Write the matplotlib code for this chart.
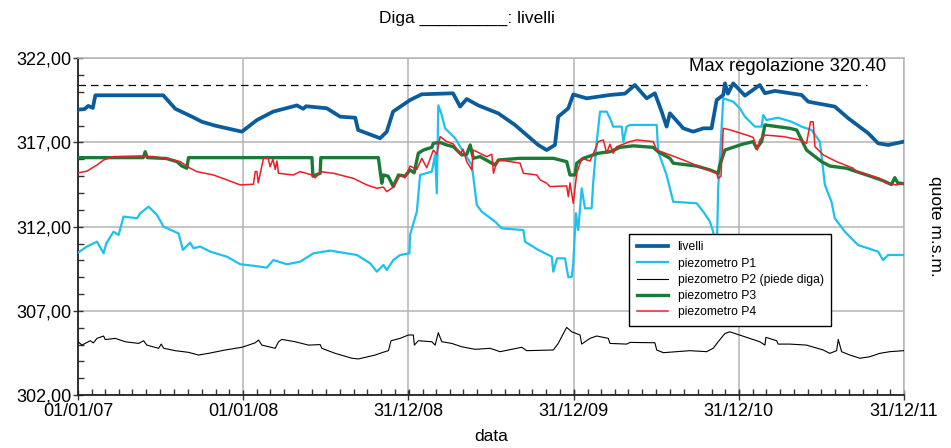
import numpy as np
import pandas as pd
import matplotlib
matplotlib.use('Agg')
import matplotlib.pyplot as plt
import matplotlib.dates as mdates
from matplotlib.ticker import MultipleLocator, FuncFormatter

plt.rcParams['font.family'] = ['Liberation Sans', 'DejaVu Sans']

# tempi in anni decimali, quote in m s.m.
t_livelli = [2007.000, 2007.040, 2007.062, 2007.090, 2007.105, 2007.516, 2007.589, 2007.690, 2007.750, 2007.830,
             2007.992, 2008.083, 2008.181, 2008.325, 2008.363, 2008.381, 2008.506, 2008.587, 2008.678, 2008.696,
             2008.829, 2008.869, 2008.907, 2009.010, 2009.081, 2009.270, 2009.313, 2009.353, 2009.423, 2009.544,
             2009.645, 2009.716, 2009.786, 2009.837, 2009.887, 2009.907, 2009.968, 2009.998, 2010.079, 2010.220,
             2010.311, 2010.371, 2010.442, 2010.492, 2010.533, 2010.563, 2010.583, 2010.664, 2010.724, 2010.785,
             2010.835, 2010.866, 2010.906, 2010.916, 2010.934, 2010.966, 2011.006, 2011.037, 2011.127, 2011.158,
             2011.218, 2011.380, 2011.420, 2011.581, 2011.662, 2011.783, 2011.843, 2011.904, 2011.999]
livelli = [318.95, 318.98, 319.17, 319.05, 319.80, 319.80, 319.00, 318.53, 318.23, 318.00,
           317.64, 318.33, 318.83, 319.20, 319.00, 319.15, 319.03, 318.53, 318.47, 317.74,
           317.25, 317.64, 318.83, 319.52, 319.86, 319.92, 319.13, 319.58, 319.20, 318.73,
           318.04, 317.44, 316.85, 316.55, 316.85, 318.53, 319.03, 319.85, 319.62, 319.82,
           319.90, 320.41, 319.62, 319.92, 318.83, 317.94, 318.73, 317.84, 317.64, 317.84,
           317.84, 319.52, 319.82, 320.51, 319.90, 320.51, 320.10, 319.78, 320.41, 319.92,
           320.06, 319.82, 319.42, 319.13, 318.44, 317.55, 316.95, 316.85, 317.05]

t_p1 = [2007.000, 2007.054, 2007.115, 2007.155, 2007.171, 2007.215, 2007.246, 2007.276, 2007.357, 2007.377,
        2007.427, 2007.478, 2007.518, 2007.609, 2007.635, 2007.679, 2007.699, 2007.740, 2007.800, 2007.901,
        2007.982, 2008.062, 2008.143, 2008.183, 2008.264, 2008.345, 2008.425, 2008.526, 2008.688, 2008.768,
        2008.809, 2008.849, 2008.869, 2008.909, 2008.950, 2009.006, 2009.010, 2009.051, 2009.071, 2009.142,
        2009.162, 2009.172, 2009.181, 2009.202, 2009.222, 2009.283, 2009.313, 2009.384, 2009.414, 2009.444,
        2009.525, 2009.565, 2009.696, 2009.706, 2009.786, 2009.868, 2009.877, 2009.900, 2009.948, 2009.968,
        2009.989, 2009.998, 2010.014, 2010.028, 2010.049, 2010.069, 2010.109, 2010.119, 2010.140, 2010.160,
        2010.200, 2010.220, 2010.240, 2010.291, 2010.301, 2010.321, 2010.342, 2010.503, 2010.512, 2010.563,
        2010.603, 2010.745, 2010.785, 2010.825, 2010.845, 2010.866, 2010.875, 2010.906, 2010.966, 2011.006,
        2011.037, 2011.098, 2011.138, 2011.148, 2011.168, 2011.238, 2011.319, 2011.380, 2011.440, 2011.491,
        2011.521, 2011.561, 2011.581, 2011.642, 2011.722, 2011.843, 2011.873, 2011.904, 2011.999]
p1 = [310.46, 310.82, 311.11, 310.42, 311.00, 311.70, 311.51, 312.60, 312.50, 312.80,
      313.19, 312.70, 312.00, 311.60, 310.62, 311.05, 310.72, 310.82, 310.52, 310.22,
      309.77, 309.68, 309.57, 310.02, 309.77, 309.92, 310.42, 310.58, 310.32, 309.83,
      309.33, 309.73, 309.43, 310.02, 310.32, 310.42, 311.51, 312.89, 315.07, 315.27,
      316.26, 313.98, 319.20, 318.63, 317.84, 317.25, 316.75, 315.66, 313.29, 312.89,
      312.30, 311.90, 311.80, 311.11, 310.62, 310.22, 309.33, 310.12, 310.12, 309.00,
      309.03, 309.83, 312.80, 311.80, 314.28, 313.09, 313.09, 314.67, 317.05, 318.83,
      318.83, 318.44, 317.94, 317.94, 317.05, 317.94, 318.04, 318.04, 316.45, 315.07,
      313.48, 313.39, 312.89, 312.30, 311.70, 310.20, 314.28, 319.62, 319.42, 319.03,
      318.53, 317.94, 317.94, 318.63, 318.33, 318.47, 318.23, 317.94, 317.74, 317.05,
      314.48, 313.48, 312.50, 311.70, 310.91, 310.52, 310.02, 310.32, 310.32]

t_p2 = [2007.000, 2007.024, 2007.074, 2007.093, 2007.115, 2007.155, 2007.165, 2007.226, 2007.286, 2007.367,
        2007.397, 2007.417, 2007.488, 2007.504, 2007.519, 2007.589, 2007.669, 2007.730, 2007.790, 2007.891,
        2007.992, 2008.032, 2008.073, 2008.093, 2008.113, 2008.194, 2008.214, 2008.234, 2008.315, 2008.395,
        2008.466, 2008.476, 2008.557, 2008.658, 2008.698, 2008.799, 2008.839, 2008.879, 2008.895, 2008.950,
        2009.000, 2009.030, 2009.036, 2009.060, 2009.142, 2009.162, 2009.181, 2009.202, 2009.263, 2009.323,
        2009.404, 2009.494, 2009.555, 2009.686, 2009.716, 2009.877, 2009.907, 2009.938, 2009.958, 2009.989,
        2010.039, 2010.049, 2010.099, 2010.140, 2010.210, 2010.220, 2010.321, 2010.342, 2010.492, 2010.503,
        2010.543, 2010.624, 2010.705, 2010.805, 2010.845, 2010.875, 2010.916, 2010.946, 2011.127, 2011.158,
        2011.164, 2011.229, 2011.238, 2011.309, 2011.410, 2011.511, 2011.551, 2011.592, 2011.602, 2011.622,
        2011.672, 2011.733, 2011.793, 2011.853, 2011.914, 2011.999]
p2 = [305.17, 304.97, 305.23, 305.10, 305.37, 305.51, 305.30, 305.37, 305.17, 305.07,
      305.23, 304.97, 304.78, 305.03, 304.78, 304.64, 304.54, 304.38, 304.48, 304.68,
      304.84, 304.97, 305.11, 305.27, 304.97, 304.78, 305.17, 305.31, 305.17, 304.97,
      305.00, 304.78, 304.48, 304.19, 304.15, 304.38, 304.52, 304.64, 305.23, 305.37,
      305.57, 305.57, 304.97, 305.23, 305.17, 304.97, 305.71, 305.17, 305.07, 304.87,
      304.72, 304.78, 304.58, 304.84, 304.64, 304.68, 305.07, 305.66, 306.02, 305.76,
      305.57, 305.03, 305.37, 305.51, 305.37, 305.07, 305.03, 305.13, 305.11, 304.68,
      304.52, 304.58, 304.64, 304.58, 304.78, 305.17, 305.66, 305.76, 305.17, 304.97,
      305.43, 305.23, 305.03, 305.03, 304.97, 304.68, 304.48, 304.64, 305.31, 304.58,
      304.38, 304.19, 304.28, 304.48, 304.58, 304.64]

t_p3 = [2007.000, 2007.395, 2007.407, 2007.419, 2007.534, 2007.599, 2007.629, 2007.659, 2007.669, 2008.416,
        2008.422, 2008.466, 2008.470, 2008.818, 2008.839, 2008.849, 2008.877, 2008.909, 2008.940, 2008.980,
        2009.010, 2009.035, 2009.060, 2009.091, 2009.142, 2009.151, 2009.192, 2009.232, 2009.272, 2009.323,
        2009.353, 2009.374, 2009.393, 2009.434, 2009.525, 2009.545, 2009.676, 2009.877, 2009.958, 2009.978,
        2010.008, 2010.019, 2010.059, 2010.149, 2010.220, 2010.281, 2010.361, 2010.482, 2010.512, 2010.583,
        2010.603, 2010.745, 2010.825, 2010.875, 2010.885, 2010.916, 2010.946, 2011.027, 2011.087, 2011.108,
        2011.138, 2011.158, 2011.309, 2011.350, 2011.370, 2011.410, 2011.461, 2011.501, 2011.551, 2011.652,
        2011.712, 2011.793, 2011.873, 2011.924, 2011.944, 2011.962, 2011.999]
p3 = [316.10, 316.10, 316.45, 316.10, 316.05, 315.86, 315.60, 315.47, 316.10, 316.10,
      315.00, 315.17, 316.10, 316.10, 314.58, 315.07, 315.00, 314.38, 315.07, 315.00,
      315.37, 315.20, 316.36, 316.55, 316.71, 316.95, 317.00, 316.85, 316.75, 316.26,
      316.30, 316.85, 316.06, 316.16, 315.66, 315.96, 316.06, 316.06, 315.86, 315.07,
      315.07, 315.77, 316.06, 316.36, 316.45, 316.71, 316.80, 316.71, 316.45, 316.06,
      315.77, 315.60, 315.37, 315.17, 315.66, 316.55, 316.65, 316.91, 317.05, 316.65,
      317.05, 318.04, 317.84, 317.74, 317.35, 316.55, 316.16, 315.86, 315.60, 315.47,
      315.27, 315.01, 314.73, 314.50, 314.91, 314.60, 314.55]

t_p4 = [2007.000, 2007.054, 2007.115, 2007.155, 2007.215, 2007.377, 2007.457, 2007.558, 2007.619, 2007.679,
        2007.720, 2007.820, 2007.901, 2007.982, 2008.062, 2008.073, 2008.083, 2008.091, 2008.123, 2008.151,
        2008.163, 2008.180, 2008.194, 2008.204, 2008.214, 2008.304, 2008.345, 2008.416, 2008.436, 2008.466,
        2008.546, 2008.667, 2008.748, 2008.809, 2008.849, 2008.869, 2008.909, 2008.950, 2008.980, 2009.010,
        2009.051, 2009.081, 2009.111, 2009.151, 2009.172, 2009.192, 2009.232, 2009.272, 2009.313, 2009.331,
        2009.353, 2009.384, 2009.393, 2009.474, 2009.505, 2009.515, 2009.535, 2009.555, 2009.676, 2009.696,
        2009.777, 2009.797, 2009.837, 2009.857, 2009.958, 2009.968, 2009.978, 2009.998, 2010.019, 2010.049,
        2010.099, 2010.129, 2010.149, 2010.180, 2010.200, 2010.220, 2010.240, 2010.260, 2010.341, 2010.382,
        2010.482, 2010.503, 2010.583, 2010.664, 2010.785, 2010.866, 2010.875, 2010.892, 2010.906, 2010.946,
        2011.047, 2011.087, 2011.098, 2011.112, 2011.127, 2011.158, 2011.269, 2011.370, 2011.410, 2011.434,
        2011.450, 2011.461, 2011.511, 2011.592, 2011.692, 2011.712, 2011.853, 2011.894, 2011.954, 2011.999]
p4 = [315.19, 315.30, 315.66, 315.96, 316.16, 316.20, 316.16, 316.00, 315.86, 315.47,
      315.27, 315.07, 314.78, 314.48, 314.52, 315.27, 315.27, 314.60, 316.06, 316.06,
      315.56, 316.00, 315.40, 315.90, 315.17, 315.07, 315.27, 315.07, 314.90, 315.27,
      315.17, 314.87, 314.48, 314.28, 314.35, 314.08, 314.35, 315.07, 314.90, 315.60,
      315.40, 316.06, 315.50, 316.55, 316.30, 317.35, 317.05, 316.91, 316.30, 316.60,
      315.86, 315.37, 316.55, 316.16, 316.30, 315.17, 315.86, 315.96, 315.77, 315.17,
      315.07, 314.78, 314.58, 314.38, 314.42, 313.78, 314.60, 313.39, 315.17, 316.06,
      315.90, 316.55, 317.05, 317.15, 316.36, 316.90, 316.36, 316.75, 317.05, 317.15,
      317.05, 316.55, 316.26, 315.96, 315.47, 315.17, 314.87, 315.00, 317.84, 317.75,
      317.44, 317.30, 316.95, 316.55, 317.15, 317.44, 317.35, 317.15, 316.95, 318.23,
      318.23, 316.75, 316.26, 315.86, 315.47, 315.27, 314.87, 314.58, 314.48, 314.58]

max_regolazione = 320.40
y_ticks = [302, 307, 312, 317, 322]
tick_dates = ['2007-01-01', '2008-01-01', '2008-12-31', '2009-12-31', '2010-12-31', '2011-12-31']
tick_labels = ['01/01/07', '01/01/08', '31/12/08', '31/12/09', '31/12/10', '31/12/11']


def to_dates(t):
    t = np.asarray(t, dtype=float)
    return pd.Timestamp('2007-01-01') + pd.to_timedelta((t - 2007.0) * 365.0, unit='D')


fig = plt.figure(figsize=(9.51, 4.48), dpi=100)
ax = fig.add_axes([0.082, 0.118, 0.8686, 0.752])

ax.plot(to_dates(t_livelli), livelli, color='#0a5c9c', lw=2.7, label='livelli', zorder=6)
ax.plot(to_dates(t_p1), p1, color='#1ec0f0', lw=1.6, label='piezometro P1', zorder=3)
ax.plot(to_dates(t_p2), p2, color='black', lw=0.8, label='piezometro P2 (piede diga)', zorder=3)
ax.plot(to_dates(t_p3), p3, color='#1b7a35', lw=2.4, label='piezometro P3', zorder=4)
ax.plot(to_dates(t_p4), p4, color='#ee1c25', lw=1.1, label='piezometro P4', zorder=5)

# quota di massima regolazione
ax.plot(to_dates([2007.0, 2011.773]), [max_regolazione] * 2, color='black', lw=0.9,
        dashes=(6, 4), zorder=2)
ax.text(to_dates([2011.890])[0], 321.5, 'Max regolazione 320.40', ha='right', va='center',
        fontsize=13.3)

ax.set_xlim(pd.Timestamp('2007-01-01'), pd.Timestamp('2011-12-31'))
ax.set_ylim(302, 322)

ax.set_xticks(pd.to_datetime(tick_dates))
ax.set_xticklabels(tick_labels, fontsize=13)
ax.xaxis.set_minor_locator(mdates.MonthLocator())
ax.set_yticks(y_ticks)
ax.yaxis.set_minor_locator(MultipleLocator(1))
ax.yaxis.set_major_formatter(FuncFormatter(lambda v, p: f'{v:.2f}'.replace('.', ',')))
ax.tick_params(axis='y', labelsize=13, pad=1)
ax.tick_params(axis='x', pad=2)
ax.tick_params(which='major', direction='inout', length=7, width=1, color='#333333')
ax.tick_params(which='minor', direction='in', length=4, width=1, color='#333333')

ax.grid(True, which='major', color='#b4b4b4', lw=1.1)
for s in ['top', 'right']:
    ax.spines[s].set_color('#b4b4b4')
    ax.spines[s].set_linewidth(1.1)
for s in ['left', 'bottom']:
    ax.spines[s].set_color('#222222')
    ax.spines[s].set_linewidth(1.3)

ax.set_xlabel('data', fontsize=12.5, labelpad=7)
ax.yaxis.set_label_position('right')
ax.set_ylabel('quote m.s.m.', fontsize=12.5, rotation=-90, labelpad=28)

fig.text(0.491, 0.958, 'Diga _________: livelli', ha='center', va='center', fontsize=12.5)

leg = ax.legend(loc='upper left', bbox_to_anchor=(0.6674, 0.478), borderaxespad=0,
                fontsize=8.7, frameon=True, fancybox=False, edgecolor='black', framealpha=1,
                handlelength=2.6, borderpad=0.6, labelspacing=0.35, handletextpad=0.8)
leg.get_frame().set_linewidth(1.0)

fig.savefig('out.png', dpi=100)
